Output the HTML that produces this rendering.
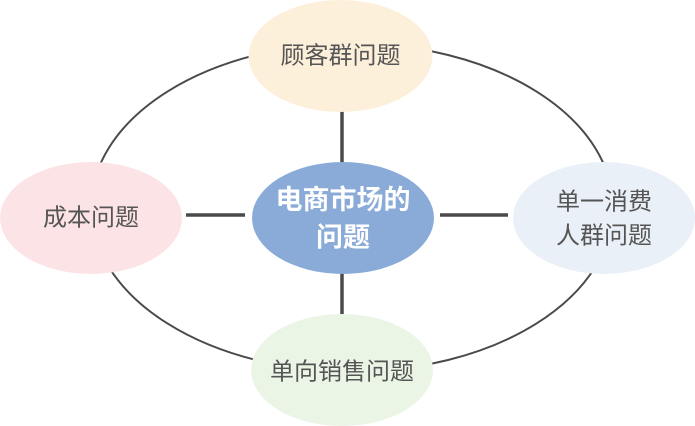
<!DOCTYPE html>
<html>
<head>
<meta charset="utf-8">
<style>
html,body{margin:0;padding:0;background:#fff;}
svg{display:block;}
text{font-family:"Liberation Sans","Noto Sans CJK SC",sans-serif;}
</style>
</head>
<body>
<svg width="695" height="426" viewBox="0 0 695 426" xmlns="http://www.w3.org/2000/svg">
  <rect width="695" height="426" fill="#ffffff"/>
  <!-- outer ring -->
  <ellipse cx="352" cy="207.5" rx="261" ry="164" fill="none" stroke="#4a4a4a" stroke-width="2"/>
  <!-- spokes -->
  <line x1="342" y1="108" x2="342" y2="166" stroke="#4a4a4a" stroke-width="3.5"/>
  <line x1="342" y1="270" x2="342" y2="318" stroke="#4a4a4a" stroke-width="3.5"/>
  <line x1="186" y1="215" x2="245" y2="215" stroke="#4a4a4a" stroke-width="3.5"/>
  <line x1="440" y1="215" x2="508" y2="215" stroke="#4a4a4a" stroke-width="3.5"/>
  <!-- nodes -->
  <ellipse cx="340.5" cy="56" rx="92" ry="56" fill="#fdf0db"/>
  <ellipse cx="91" cy="218" rx="91" ry="56" fill="#fce4e6"/>
  <ellipse cx="604" cy="218" rx="91" ry="56" fill="#eaf0f7"/>
  <ellipse cx="342" cy="370" rx="91" ry="56" fill="#ebf5e6"/>
  <ellipse cx="343" cy="218" rx="91" ry="56" fill="#8aabd8"/>
  <!-- labels -->
  <g fill="#555555" font-size="24" text-anchor="middle" dominant-baseline="central">
    <text x="340.5" y="56">顾客群问题</text>
    <text x="91" y="218">成本问题</text>
    <text x="604" y="202">单一消费</text>
    <text x="604" y="236">人群问题</text>
    <text x="342" y="372">单向销售问题</text>
  </g>
  <g fill="#ffffff" font-size="27" font-weight="bold" text-anchor="middle" dominant-baseline="central">
    <text x="343" y="200">电商市场的</text>
    <text x="343" y="237.5">问题</text>
  </g>
</svg>
</body>
</html>
